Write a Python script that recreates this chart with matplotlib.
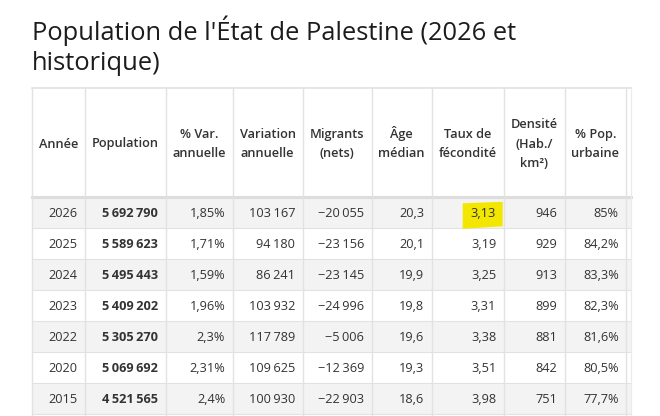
import matplotlib
matplotlib.use('Agg')
import matplotlib.pyplot as plt
from matplotlib.patches import Rectangle, Polygon

# data
annees = [2026, 2025, 2024, 2023, 2022, 2020, 2015]
population = [5692790, 5589623, 5495443, 5409202, 5305270, 5069692, 4521565]
var_pct = [1.85, 1.71, 1.59, 1.96, 2.3, 2.31, 2.4]
variation = [103167, 94180, 86241, 103932, 117789, 109625, 100930]
migrants = [-20055, -23156, -23145, -24996, -5006, -12369, -22903]
age_median = [20.3, 20.1, 19.9, 19.8, 19.6, 19.3, 18.6]
fecondite = [3.13, 3.19, 3.25, 3.31, 3.38, 3.51, 3.98]
densite = [946, 929, 913, 899, 881, 842, 751]
urbaine = [85, 84.2, 83.3, 82.3, 81.6, 80.5, 77.7]

entetes = ["Année", "Population", "% Var.\nannuelle", "Variation\nannuelle",
           "Migrants\n(nets)", "Âge\nmédian", "Taux de\nfécondité",
           "Densité\n(Hab./\nkm²)", "% Pop.\nurbaine"]
titre = "Population de l'État de Palestine (2026 et\nhistorique)"

FAM = ['Open Sans', 'DejaVu Sans']
NB = '\u202f'


def entier(v):
    s = f"{abs(v):,}".replace(',', NB)
    return ('\u2212' + s) if v < 0 else s


def dec(v):
    return f"{v:g}".replace('.', ',')


lignes = []
for i in range(len(annees)):
    lignes.append([str(annees[i]), entier(population[i]), dec(var_pct[i]) + '%',
                   entier(variation[i]), entier(migrants[i]), dec(age_median[i]),
                   dec(fecondite[i]), str(densite[i]), dec(urbaine[i]) + '%'])

# layout (pixels)
W, H = 660, 416
bords = [31.7, 84.7, 165.7, 232.7, 302.7, 371.7, 431.7, 503.7, 564.7, 626.3]
clip_x = 631
haut_table = 88.3
bas_entete = 197.3
h_ligne = 31.0
col_trait = '#e2e2e2'
col_gris = '#f3f3f3'
col_txt = '#333333'

fig = plt.figure(figsize=(W / 100, H / 100), dpi=100)
ax = fig.add_axes([0, 0, 1, 1])
ax.set_xlim(0, W)
ax.set_ylim(H, 0)
ax.axis('off')

# title
for k, t in enumerate(titre.split('\n')):
    ax.text(32, 40 + k * 30, t, fontsize=18.4, family=FAM, color='#1c1c1c',
            va='baseline', ha='left')

# header
ax.add_patch(Rectangle((bords[0], haut_table), clip_x - bords[0], bas_entete - haut_table,
                       facecolor='white', edgecolor='none'))
for j, h in enumerate(entetes):
    parts = h.split('\n')
    cx = (bords[j] + bords[j + 1]) / 2
    n = len(parts)
    for k, p in enumerate(parts):
        y = 147.5 + (k - (n - 1) / 2) * 19.7
        ax.text(cx, y, p, fontsize=9.2, family=FAM, fontweight='semibold',
                color=col_txt, ha='center', va='baseline')

# rows
nrows = len(lignes) + 1
for i in range(nrows):
    y0 = bas_entete + i * h_ligne
    fc = col_gris if i % 2 == 0 else 'white'
    ax.add_patch(Rectangle((bords[0], y0), clip_x - bords[0], h_ligne,
                           facecolor=fc, edgecolor='none'))
    ax.plot([bords[0], clip_x], [y0, y0], color=col_trait, lw=0.8)

# highlight on 2026 fertility
c0, c1 = bords[6], bords[7]
r0 = bas_entete
ax.add_patch(Polygon([(c0 + 31, r0 + 6), (c1 - 1, r0 + 4.5), (c1 - 1, r0 + 29),
                      (c0 + 31, r0 + 31.5)], closed=True, facecolor='#f3e600',
                     edgecolor='none', zorder=2))

for i, row in enumerate(lignes):
    y0 = bas_entete + i * h_ligne
    for j, val in enumerate(row):
        ax.text(bords[j + 1] - 7.5, y0 + 20, val, fontsize=9.2, family=FAM,
                fontweight='bold' if j == 1 else 'normal', color=col_txt,
                ha='right', va='baseline', zorder=3)

# borders
ax.plot([bords[0], clip_x], [haut_table, haut_table], color=col_trait, lw=1.2)
ax.plot([bords[0], clip_x], [bas_entete - 0.8, bas_entete - 0.8], color='#dddddd', lw=2.2)
for x in bords:
    ax.plot([x, x], [haut_table, H], color=col_trait, lw=1.0)
ax.plot([clip_x, clip_x], [haut_table, H], color='#ebebeb', lw=0.8)

fig.savefig('out.png', dpi=100, facecolor='white')
